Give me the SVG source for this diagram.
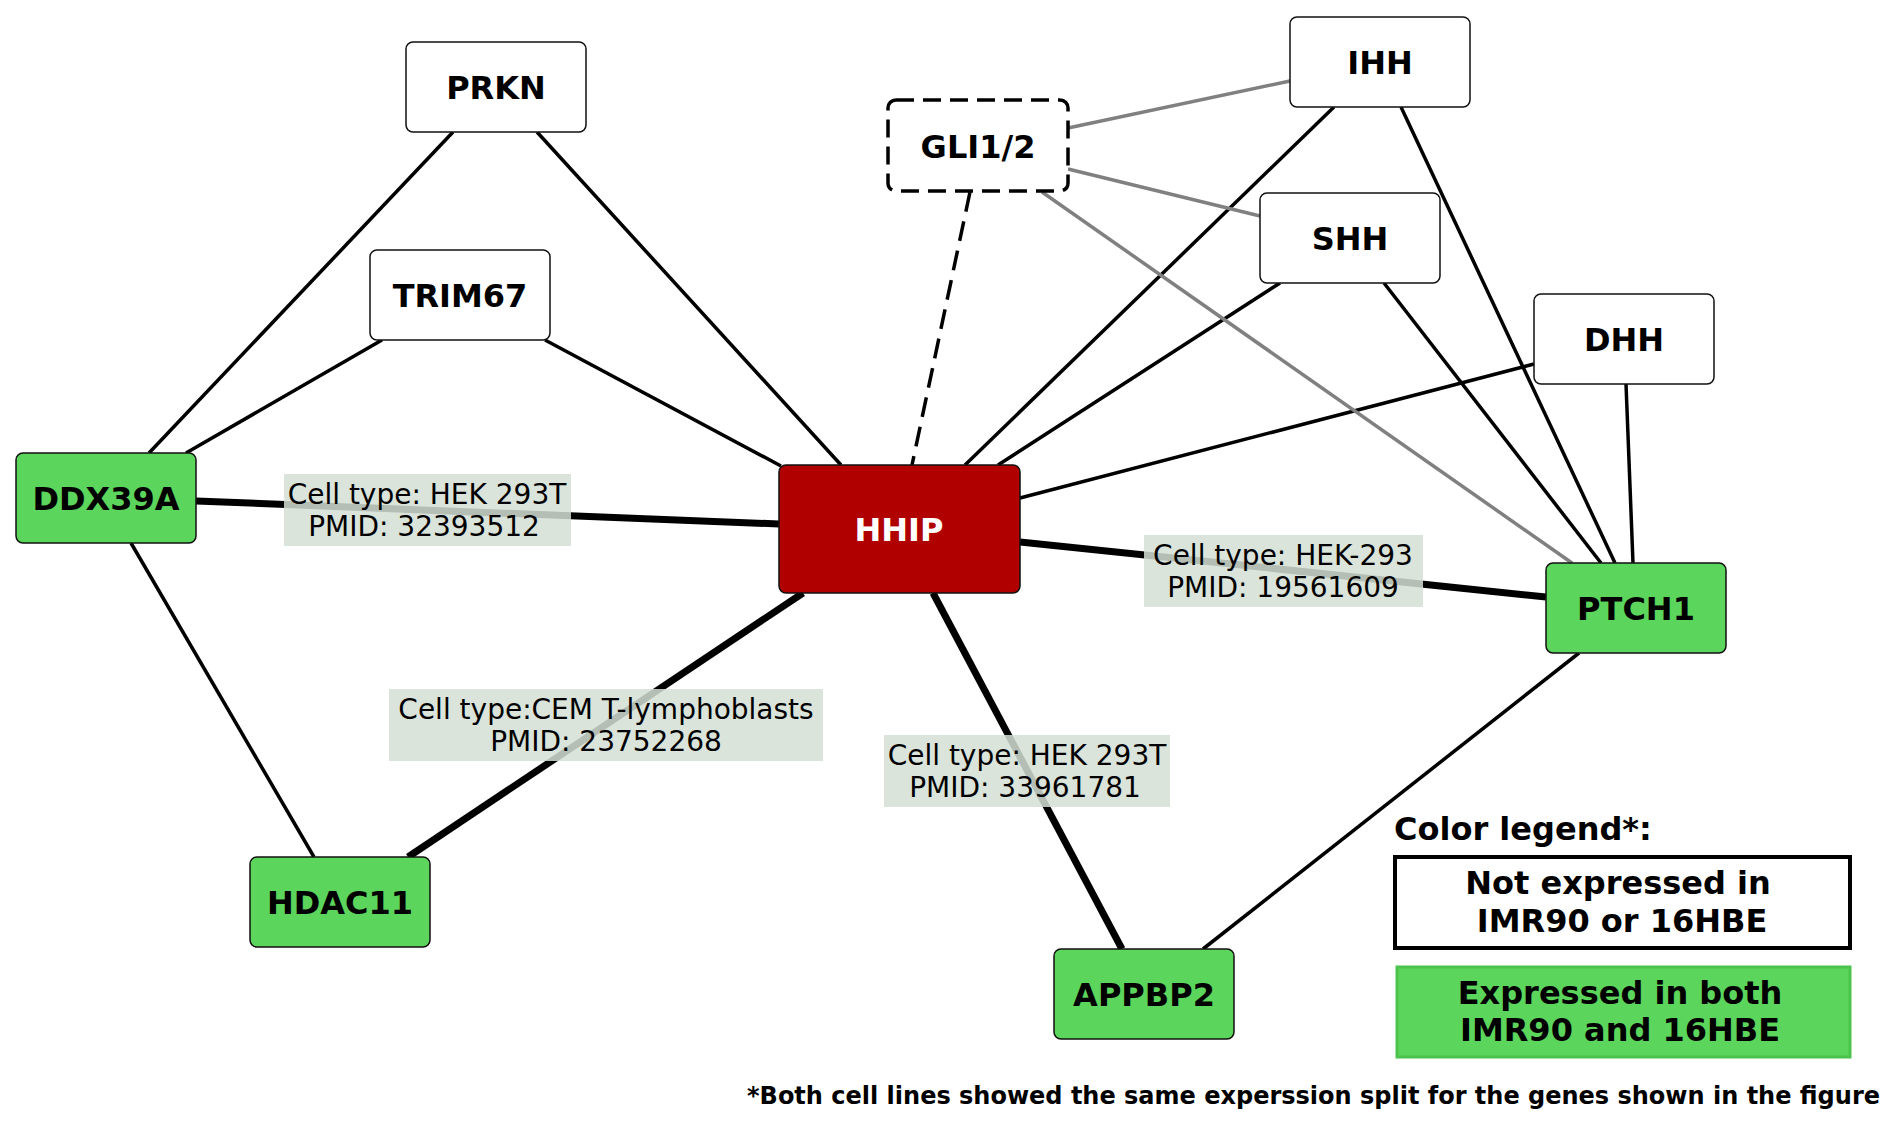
<svg xmlns="http://www.w3.org/2000/svg" width="1904" height="1134" viewBox="0 0 1904 1134">
<style>
.n rect{stroke:#111;stroke-width:1.5}
.w rect{fill:#fff}
.g rect{fill:#5bd55b}
.t{font-family:"DejaVu Sans",sans-serif;font-weight:bold;font-size:32px;text-anchor:middle;fill:#000}
.e line{stroke:#000;stroke-width:3.5;stroke-linecap:butt}
.e .k{stroke-width:7}
.e .gr{stroke:#808080}
.e .d{stroke-dasharray:20 10;stroke-width:3.5}
.lb rect{fill:#d3dfd3;fill-opacity:0.85}
.lt{font-family:"DejaVu Sans",sans-serif;font-size:28px;text-anchor:middle;fill:#000}
</style>
<rect width="1904" height="1134" fill="#fff"/>
<g id="edges" class="e">
<line x1="453" y1="132" x2="149" y2="453"/>
<line x1="537" y1="132" x2="841" y2="465"/>
<line x1="382" y1="340" x2="186" y2="453"/>
<line x1="545" y1="340" x2="781" y2="466"/>
<line class="k" x1="196" y1="501" x2="779" y2="524"/>
<line x1="131" y1="543" x2="314" y2="857"/>
<line class="d" x1="970" y1="192" x2="912" y2="465"/>
<line x1="1334" y1="107" x2="965" y2="465"/>
<line x1="1280" y1="283" x2="998" y2="465"/>
<line x1="1534" y1="364" x2="1020" y2="498"/>
<line class="k" x1="1020" y1="542" x2="1546" y2="597"/>
<line class="k" x1="803" y1="593" x2="408" y2="857"/>
<line class="k" x1="933" y1="593" x2="1122" y2="949"/>
<line x1="1401" y1="107" x2="1615" y2="563"/>
<line x1="1384" y1="283" x2="1601" y2="563"/>
<line x1="1626" y1="384" x2="1633" y2="563"/>
<line x1="1579" y1="653" x2="1203" y2="949"/>
<line class="gr" x1="1068" y1="128" x2="1290" y2="81"/>
<line class="gr" x1="1068" y1="169" x2="1260" y2="216"/>
<line class="gr" x1="1042" y1="192" x2="1572" y2="563"/>
</g>
<g id="edge-labels" class="lb">
<rect x="284" y="474" width="287" height="72"/>
<text class="lt" x="427" y="504">Cell type: HEK 293T</text>
<text class="lt" x="424" y="536">PMID: 32393512</text>
<rect x="1144" y="535" width="279" height="72"/>
<text class="lt" x="1283" y="565">Cell type: HEK-293</text>
<text class="lt" x="1283" y="597">PMID: 19561609</text>
<rect x="389" y="689" width="434" height="72"/>
<text class="lt" x="606" y="719">Cell type:CEM T-lymphoblasts</text>
<text class="lt" x="606" y="751">PMID: 23752268</text>
<rect x="884" y="735" width="286" height="72"/>
<text class="lt" x="1027" y="765">Cell type: HEK 293T</text>
<text class="lt" x="1025" y="797">PMID: 33961781</text>
</g>
<g id="PRKN" class="n w"><rect x="406" y="42" width="180" height="90" rx="7"/><text class="t" x="496" y="99">PRKN</text></g>
<g id="TRIM67" class="n w"><rect x="370" y="250" width="180" height="90" rx="7"/><text class="t" x="460" y="307">TRIM67</text></g>
<g id="DDX39A" class="n g"><rect x="16" y="453" width="180" height="90" rx="7"/><text class="t" x="106" y="510">DDX39A</text></g>
<g id="HDAC11" class="n g"><rect x="250" y="857" width="180" height="90" rx="7"/><text class="t" x="340" y="914">HDAC11</text></g>
<g id="GLI1_2"><rect x="888" y="100" width="180" height="91" rx="8" fill="#fff" stroke="#000" stroke-width="3.5" stroke-dasharray="18 9"/><text class="t" x="978" y="158">GLI1/2</text></g>
<g id="HHIP" class="n"><rect x="779" y="465" width="241" height="128" rx="7" fill="#b00000"/><text class="t" x="899" y="541" style="fill:#fff">HHIP</text></g>
<g id="IHH" class="n w"><rect x="1290" y="17" width="180" height="90" rx="7"/><text class="t" x="1380" y="74">IHH</text></g>
<g id="SHH" class="n w"><rect x="1260" y="193" width="180" height="90" rx="7"/><text class="t" x="1350" y="250">SHH</text></g>
<g id="DHH" class="n w"><rect x="1534" y="294" width="180" height="90" rx="7"/><text class="t" x="1624" y="351">DHH</text></g>
<g id="PTCH1" class="n g"><rect x="1546" y="563" width="180" height="90" rx="7"/><text class="t" x="1636" y="620">PTCH1</text></g>
<g id="APPBP2" class="n g"><rect x="1054" y="949" width="180" height="90" rx="7"/><text class="t" x="1144" y="1006">APPBP2</text></g>
<g id="legend">
<text class="t" x="1394" y="840" style="text-anchor:start">Color legend*:</text>
<rect x="1395" y="857" width="455" height="91" fill="#fff" stroke="#000" stroke-width="4"/>
<text class="t" x="1618" y="894">Not expressed in</text>
<text class="t" x="1622" y="932">IMR90 or 16HBE</text>
<rect x="1397" y="967" width="453" height="90" fill="#5bd55b" stroke="#4cc34c" stroke-width="3"/>
<text class="t" x="1620" y="1004">Expressed in both</text>
<text class="t" x="1620" y="1041">IMR90 and 16HBE</text>
</g>
<text class="t" x="1880" y="1104" style="text-anchor:end;font-size:24px">*Both cell lines showed the same experssion split for the genes shown in the figure</text>
</svg>
